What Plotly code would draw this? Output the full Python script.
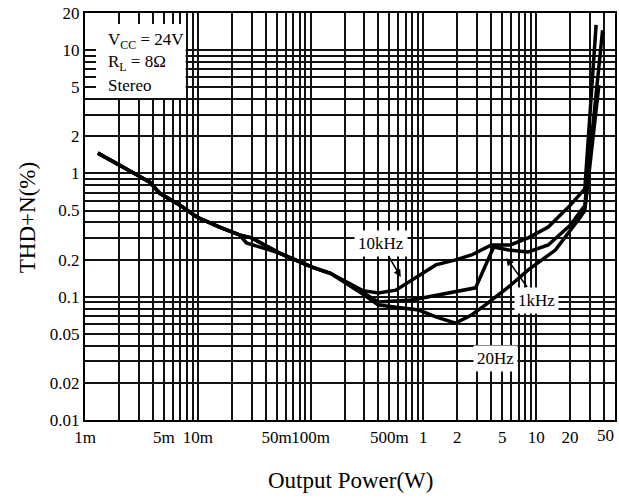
import numpy as np
import plotly.graph_objects as go

# ---- data ----
common_p = [0.0013, 0.00204, 0.0029, 0.00375, 0.0046, 0.0069, 0.0098, 0.0156, 0.0234]
common_t = [1.46, 1.17, 0.97, 0.85, 0.69, 0.555, 0.443, 0.367, 0.317]

p_10k = [0.030, 0.053, 0.103, 0.150, 0.290, 0.40, 0.57, 1.29, 1.93, 2.67, 4.0, 5.9, 8.5, 12.8, 20, 27, 34]
t_10k = [0.300, 0.226, 0.174, 0.155, 0.112, 0.107, 0.113, 0.181, 0.199, 0.218, 0.263, 0.263, 0.30, 0.367, 0.55, 0.75, 16]

p_1k = [0.027, 0.035, 0.053, 0.103, 0.150, 0.290, 0.40, 0.79, 1.37, 2.9, 4.2, 5.7, 8.5, 12.8, 20, 27, 38.8]
t_1k = [0.273, 0.253, 0.226, 0.174, 0.155, 0.108, 0.0906, 0.094, 0.103, 0.118, 0.253, 0.239, 0.231, 0.263, 0.38, 0.55, 14.5]

p_20 = [0.030, 0.053, 0.103, 0.150, 0.290, 0.40, 0.91, 1.29, 1.93, 2.67, 3.55, 5.7, 8.5, 14.8, 23.6, 27, 36]
t_20 = [0.300, 0.226, 0.174, 0.155, 0.105, 0.0857, 0.078, 0.0685, 0.061, 0.071, 0.0857, 0.12, 0.165, 0.239, 0.42, 0.50, 5.2]

x_tick_vals = [m * 10.0 ** e for e in range(-3, 2) for m in range(1, 10)] + [50]
x_tick_labels = {0.001: "1m", 0.005: "5m", 0.01: "10m", 0.05: "50m", 0.1: "100m",
                 0.5: "500m", 1: "1", 2: "2", 5: "5", 10: "10", 20: "20"}
x_last_label = "50"  # drawn just inside the right edge, as in the reference
y_tick_vals = [m * 10.0 ** e for e in range(-2, 1) for m in range(1, 10)] + [10, 20]
y_tick_labels = {0.01: "0.01", 0.02: "0.02", 0.05: "0.05", 0.1: "0.1", 0.2: "0.2",
                 0.5: "0.5", 1: "1", 2: "2", 5: "5", 10: "10", 20: "20"}


def label_for(v, table):
    for k, s in table.items():
        if abs(v - k) / k < 1e-6:
            return s
    return ""


FONT = "Liberation Serif"
fig = go.Figure()
for ps, ts in [(p_10k, t_10k), (p_1k, t_1k), (p_20, t_20)]:
    fig.add_trace(go.Scatter(x=common_p + ps, y=common_t + ts, mode="lines",
                             line=dict(color="black", width=3.5), showlegend=False))

axis_common = dict(type="log", showgrid=True, gridcolor="#111111", gridwidth=1.5,
                   showline=True, linecolor="black", linewidth=2.2, mirror="ticks",
                   ticks="inside", ticklen=11, tickwidth=1.5, tickcolor="#111111",
                   tickangle=0,
                   tickfont=dict(family=FONT, size=17, color="black"), zeroline=False)

fig.update_xaxes(range=[np.log10(0.001), np.log10(50)], tickvals=x_tick_vals,
                 ticktext=[label_for(v, x_tick_labels) for v in x_tick_vals], **axis_common)
fig.update_yaxes(range=[np.log10(0.01), np.log10(20)], tickvals=y_tick_vals,
                 ticktext=[label_for(v, y_tick_labels) for v in y_tick_vals], **axis_common)

W, H = 619, 498
L, R, T, B = 85, 2, 13, 78
PW, PH = W - L - R, H - T - B


def px(x):  # reference-pixel x -> paper fraction
    return (x - L) / PW


def py(y):  # reference-pixel y -> paper fraction
    return (H - B - y) / PH


# white box behind the condition text (data units)
box_x1 = 10 ** (-3 + (186 - L) / PW * (np.log10(50) + 3))
box_y0 = 10 ** (-2 + (H - B - 98) / PH * (np.log10(20) + 2))
fig.add_shape(type="rect", xref="x", yref="y", x0=0.001, x1=box_x1, y0=box_y0, y1=20,
              fillcolor="white", line=dict(width=0), layer="between")

ann = []
for txt, yy in [("V<sub>CC</sub> = 24V", 41), ("R<sub>L</sub> = 8Ω", 63), ("Stereo", 85)]:
    ann.append(dict(text=txt, xref="paper", yref="paper", x=px(106), y=py(yy), xanchor="left",
                    yanchor="middle", showarrow=False, font=dict(family=FONT, size=17, color="black")))

for txt, tx, ty, tipx, tipy in [("10kHz", 382, 243, 402, 277), ("1kHz", 538, 300, 508, 258),
                                ("20Hz", 497, 358, 470, 322)]:
    ann.append(dict(text=txt, xref="paper", yref="paper", x=px(tipx), y=py(tipy),
                    ax=tx - tipx, ay=ty - tipy, showarrow=True, arrowhead=2,
                    arrowsize=1, arrowwidth=1.5, arrowcolor="black", standoff=0,
                    xanchor="center", yanchor="middle",
                    bgcolor="white", borderpad=3, font=dict(family=FONT, size=17, color="black")))

ann.append(dict(text=x_last_label, xref="paper", yref="paper", x=px(618), y=py(424),
                xanchor="right", yanchor="top", showarrow=False,
                font=dict(family=FONT, size=17, color="black")))
ann.append(dict(text="Output Power(W)", xref="paper", yref="paper", x=px(351), y=py(480),
                xanchor="center", yanchor="middle",
                showarrow=False, font=dict(family=FONT, size=23, color="black")))
ann.append(dict(text="THD+N(%)", xref="paper", yref="paper", x=px(27), y=py(218), textangle=-90,
                xanchor="center", yanchor="middle",
                showarrow=False, font=dict(family=FONT, size=23, color="black")))

fig.update_layout(width=W, height=H, margin=dict(l=L, r=R, t=T, b=B),
                  plot_bgcolor="white", paper_bgcolor="white", annotations=ann)

# remove the page's default body margin so the 619x498 figure fills the window exactly
fig.write_html("out.html", config={"displayModeBar": False},
               post_script="document.body.style.margin='0px';document.body.style.overflow='hidden';")
